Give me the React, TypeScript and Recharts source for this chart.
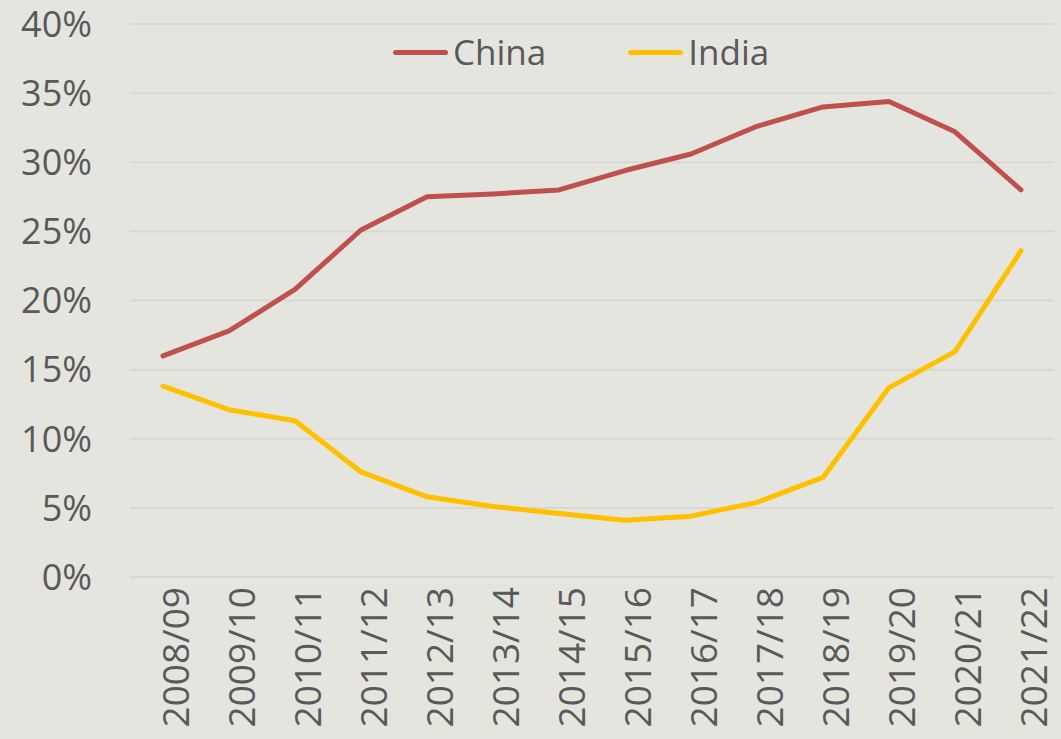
import React from "react";
import { LineChart, Line, XAxis, YAxis, CartesianGrid, Legend } from "recharts";

const years = ["2008/09","2009/10","2010/11","2011/12","2012/13","2013/14","2014/15","2015/16","2016/17","2017/18","2018/19","2019/20","2020/21","2021/22"];
const china = [16.0, 17.8, 20.8, 25.1, 27.5, 27.7, 28.0, 29.4, 30.6, 32.6, 34.0, 34.4, 32.2, 28.0];
const india = [13.8, 12.1, 11.3, 7.6, 5.8, 5.1, 4.6, 4.1, 4.4, 5.4, 7.2, 13.7, 16.3, 23.6];
const yTicks = [0, 5, 10, 15, 20, 25, 30, 35, 40];

const data = years.map((y, i) => ({ year: y, China: china[i], India: india[i] }));

const FONT = "'Open Sans', sans-serif";
const TXT = "#595959";

const LegendContent = () => (
  <div style={{ display: "flex", fontFamily: FONT, fontSize: 35, color: TXT, alignItems: "center", lineHeight: "48px" }}>
    {[
      { name: "China", color: "#C0504D" },
      { name: "India", color: "#FFC000" },
    ].map((s, i) => (
      <div key={s.name} style={{ display: "flex", alignItems: "center", marginRight: i === 0 ? 82 : 0 }}>
        <div style={{ width: 55, height: 5, borderRadius: 3, background: s.color, marginRight: 5 }} />
        <span>{s.name}</span>
      </div>
    ))}
  </div>
);

export default function App() {
  return (
    <div style={{ position: "absolute", left: 0, top: 0, width: 1061, height: 739, background: "#e5e5e0" }}>
      <LineChart width={1061} height={739} data={data} margin={{ top: 24, right: 7, bottom: 0, left: 0 }}>
        <CartesianGrid vertical={false} stroke="#d8d8d3" strokeWidth={2} />
        <XAxis
          dataKey="year"
          height={162}
          padding={{ left: 33, right: 33 }}
          axisLine={false}
          tickLine={false}
          tickSize={0}
          tickMargin={23}
          interval={0}
          angle={-90}
          textAnchor="end"
          dy={-13}
          tick={{ fill: TXT, fontSize: 37, fontFamily: FONT }}
        />
        <YAxis
          width={130}
          domain={[0, 40]}
          ticks={yTicks}
          axisLine={false}
          tickLine={false}
          tickSize={0}
          tickMargin={38}
          tickFormatter={(v) => `${v}%`}
          tick={{ fill: TXT, fontSize: 36, fontFamily: FONT }}
        />
        <Legend
          verticalAlign="middle"
          align="center"
          content={<LegendContent />}
          wrapperStyle={{ position: "absolute", top: 28, left: 393, width: "auto" }}
        />
        <Line type="linear" dataKey="China" stroke="#C0504D" strokeWidth={5} dot={false} strokeLinecap="round" strokeLinejoin="round" isAnimationActive={false} />
        <Line type="linear" dataKey="India" stroke="#FFC000" strokeWidth={5} dot={false} strokeLinecap="round" strokeLinejoin="round" isAnimationActive={false} />
      </LineChart>
    </div>
  );
}
